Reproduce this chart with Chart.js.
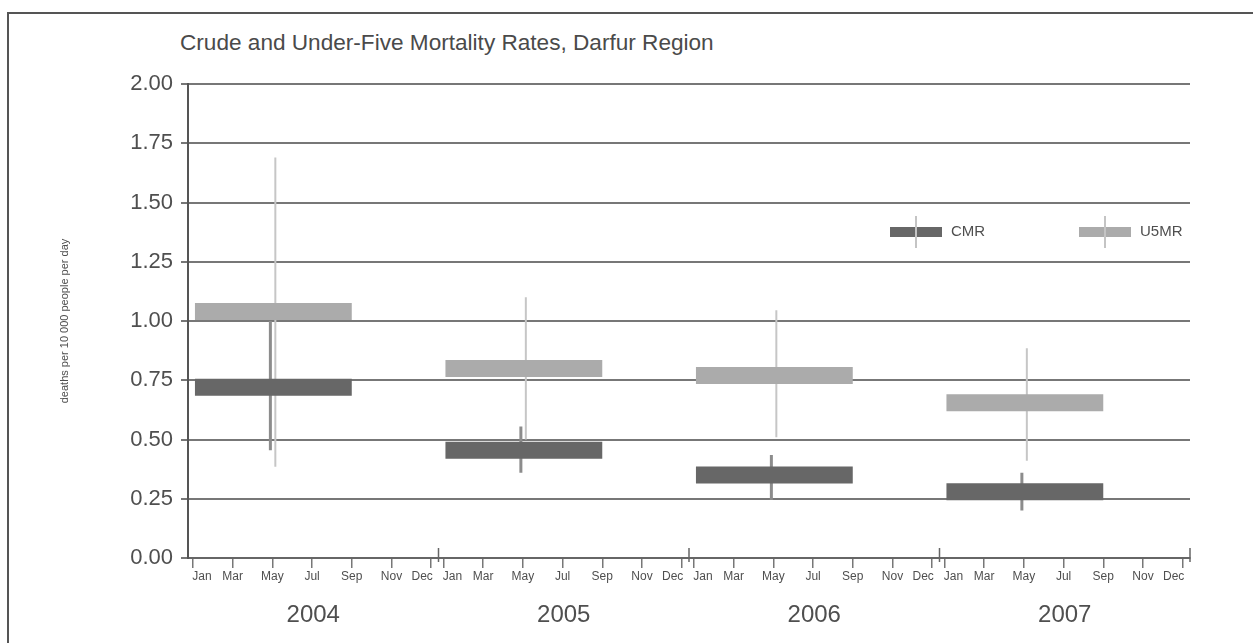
<!DOCTYPE html>
<html>
<head>
<meta charset="utf-8">
<title>Crude and Under-Five Mortality Rates, Darfur Region</title>
<script src="https://cdn.jsdelivr.net/npm/chart.js@4.4.1/dist/chart.umd.min.js"></script>
<style>
  html, body { margin: 0; padding: 0; background: #fff; }
  #wrap { position: relative; width: 1253px; height: 643px; overflow: hidden; }
  #frame { position: absolute; left: 7px; top: 12px; width: 1300px; height: 700px;
           border-left: 2px solid #555; border-top: 2px solid #555; }
  #titulo { position: absolute; left: 180px; top: 30px; color: #4a4a4a; white-space: nowrap;
            font: 22.6px "Liberation Sans", Arial, sans-serif; }
  canvas { position: absolute; left: 0; top: 0; }
</style>
</head>
<body>
<div id="wrap">
  <div id="frame"></div>
  <div id="titulo">Crude and Under-Five Mortality Rates, Darfur Region</div>
  <canvas id="grafico" width="1253" height="643"></canvas>
</div>
<script>
// datos
const years = ['2004', '2005', '2006', '2007'];
const monthLabels = ['Jan', 'Mar', 'May', 'Jul', 'Sep', 'Nov', 'Dec'];
const yTicks = [0, 0.25, 0.5, 0.75, 1, 1.25, 1.5, 1.75, 2];
const seriesNames = ['CMR', 'U5MR'];

const cmr      = [0.72, 0.455, 0.35, 0.28];
const cmrLow   = [0.455, 0.36, 0.245, 0.20];
const cmrHigh  = [1.00, 0.555, 0.435, 0.36];
const u5mr     = [1.04, 0.80, 0.77, 0.655];
const u5mrLow  = [0.385, 0.50, 0.51, 0.41];
const u5mrHigh = [1.69, 1.10, 1.045, 0.885];

const yTitle = 'deaths per 10 000 people per day';

// estilo
const YEAR = 12.62;           // ancho de un anio en unidades del eje x
const colorCMR = '#676767';
const colorU5 = '#ababab';
const textColor = '#4f4f4f';
const PAD = '\u2002\u2002\u2002';   // empuja Jan a la derecha y Dec a la izquierda
Chart.defaults.font.family = '"Liberation Sans", Arial, sans-serif';

function xOf(yearIdx, labelIdx) {
    return yearIdx * YEAR + 0.25 + 2 * labelIdx;
}

function boxPoints(values) {
    const pts = [];
    values.forEach((v, i) => {
        pts.push({ x: xOf(i, 0) + 0.1, y: v }, { x: xOf(i, 4), y: v }, { x: xOf(i, 4), y: null });
    });
    return pts;
}

function errorPoints(lows, highs, shift) {
    const pts = [];
    lows.forEach((lo, i) => {
        const x = xOf(i, 2) + shift;
        pts.push({ x: x, y: lo }, { x: x, y: highs[i] }, { x: x, y: null });
    });
    return pts;
}

function monthText(i) {
    const j = i % monthLabels.length;
    const m = monthLabels[j];
    if (j === 0) return PAD + m;
    if (j === monthLabels.length - 1) return m + PAD;
    return m;
}

const monthTicks = [];
years.forEach((y, i) => monthLabels.forEach((m, j) => monthTicks.push(xOf(i, j))));

const marcasAnio = {
    id: 'marcasAnio',
    afterDraw(chart) {
        const ctx = chart.ctx;
        const xs = chart.scales.x;
        const bottom = chart.chartArea.bottom;
        ctx.save();
        ctx.strokeStyle = '#666';
        ctx.lineWidth = 1.5;
        for (let k = 1; k <= years.length; k++) {
            const px = xs.getPixelForValue(k * YEAR);
            ctx.beginPath();
            ctx.moveTo(px, bottom - 10);
            ctx.lineTo(px, bottom + 4);
            ctx.stroke();
        }

        // leyenda
        const items = [
            { label: seriesNames[0], color: colorCMR, x: 890 },
            { label: seriesNames[1], color: colorU5, x: 1079 }
        ];
        const yMid = 232;
        items.forEach(it => {
            ctx.fillStyle = it.color;
            ctx.fillRect(it.x, yMid - 5, 52, 10);
            ctx.strokeStyle = '#c4c4c4';
            ctx.lineWidth = 2;
            ctx.beginPath();
            ctx.moveTo(it.x + 26, yMid - 16);
            ctx.lineTo(it.x + 26, yMid + 16);
            ctx.stroke();
            ctx.fillStyle = textColor;
            ctx.font = '15px "Liberation Sans", Arial, sans-serif';
            ctx.textBaseline = 'middle';
            ctx.fillText(it.label, it.x + 61, yMid);
        });
        ctx.restore();
    }
};

const lineBase = { type: 'line', pointRadius: 0, tension: 0, spanGaps: false, borderCapStyle: 'butt', fill: false };

new Chart(document.getElementById('grafico').getContext('2d'), {
    type: 'line',
    data: {
        datasets: [
            Object.assign({}, lineBase, {
                label: seriesNames[0] + ' box', data: boxPoints(cmr),
                borderColor: colorCMR, borderWidth: 17, order: 1
            }),
            Object.assign({}, lineBase, {
                label: seriesNames[1] + ' box', data: boxPoints(u5mr),
                borderColor: colorU5, borderWidth: 17, order: 2
            }),
            Object.assign({}, lineBase, {
                label: seriesNames[0] + ' CI', data: errorPoints(cmrLow, cmrHigh, -0.1),
                borderColor: '#8c8c8c', borderWidth: 3, order: 3
            }),
            Object.assign({}, lineBase, {
                label: seriesNames[1] + ' CI', data: errorPoints(u5mrLow, u5mrHigh, 0.15),
                borderColor: '#c6c6c6', borderWidth: 2, order: 4
            })
        ]
    },
    options: {
        responsive: false,
        animation: false,
        devicePixelRatio: 1,
        layout: { padding: { top: 84, right: 63, bottom: 0, left: 0 } },
        plugins: { legend: { display: false }, tooltip: { enabled: false } },
        scales: {
            x: {
                type: 'linear', min: 0, max: years.length * YEAR,
                afterBuildTicks: s => { s.ticks = monthTicks.map(v => ({ value: v })); },
                afterFit: s => { s.height = 35; },
                ticks: {
                    autoSkip: false, maxRotation: 0, padding: 1,
                    callback: (v, i) => monthText(i),
                    font: { size: 12, family: '"Liberation Sans Narrow", "Liberation Sans", Arial, sans-serif' },
                    color: textColor
                },
                grid: { drawOnChartArea: false, tickLength: 10, color: '#777', lineWidth: 1.5 },
                border: { color: '#666', width: 2 }
            },
            x2: {
                type: 'linear', position: 'bottom', min: 0, max: years.length * YEAR,
                afterBuildTicks: s => { s.ticks = years.map((y, i) => ({ value: (i + 0.5) * YEAR })); },
                afterFit: s => { s.height = 50; },
                ticks: {
                    autoSkip: false, maxRotation: 0, padding: 8,
                    callback: (v, i) => years[i],
                    font: { size: 24 }, color: textColor
                },
                grid: { display: false, drawTicks: false },
                border: { display: false }
            },
            y: {
                min: 0, max: 2,
                afterBuildTicks: s => { s.ticks = yTicks.map(v => ({ value: v })); },
                afterFit: s => { s.width = 188; },
                ticks: { callback: v => v.toFixed(2), font: { size: 22 }, color: textColor, padding: 8 },
                grid: { color: '#777', lineWidth: 2, tickLength: 7 },
                border: { color: '#555', width: 2 },
                title: {
                    display: true, text: yTitle, color: textColor,
                    font: { size: 11 }, padding: { top: 58, bottom: 0 }
                }
            }
        }
    },
    plugins: [marcasAnio]
});
</script>
</body>
</html>
